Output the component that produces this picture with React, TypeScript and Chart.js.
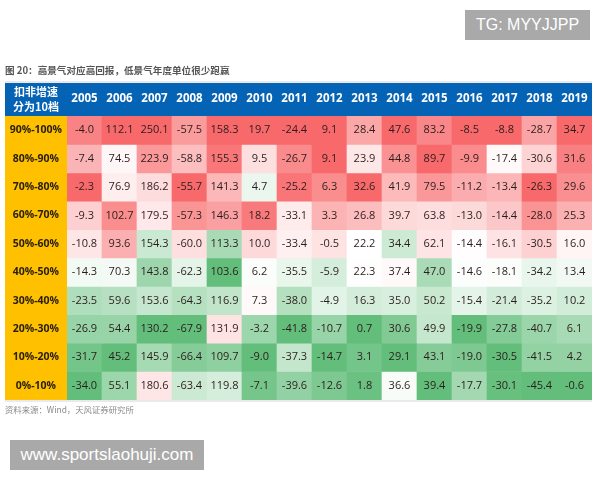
import { useEffect, useRef } from "react"
import { Chart, registerables } from "chart.js"

// Register Chart.js components
Chart.register(...registerables)

const years = ["2005", "2006", "2007", "2008", "2009", "2010", "2011", "2012", "2013", "2014", "2015", "2016", "2017", "2018", "2019"]
const buckets = ["90%-100%", "80%-90%", "70%-80%", "60%-70%", "50%-60%", "40%-50%", "30%-40%", "20%-30%", "10%-20%", "0%-10%"]

const row90 = [-4.0, 112.1, 250.1, -57.5, 158.3, 19.7, -24.4, 9.1, 28.4, 47.6, 83.2, -8.5, -8.8, -28.7, 34.7]
const row80 = [-7.4, 74.5, 223.9, -58.8, 155.3, 9.5, -26.7, 9.1, 23.9, 44.8, 89.7, -9.9, -17.4, -30.6, 31.6]
const row70 = [-2.3, 76.9, 186.2, -55.7, 141.3, 4.7, -25.2, 6.3, 32.6, 41.9, 79.5, -11.2, -13.4, -26.3, 29.6]
const row60 = [-9.3, 102.7, 179.5, -57.3, 146.3, 18.2, -33.1, 3.3, 26.8, 39.7, 63.8, -13.0, -14.4, -28.0, 25.3]
const row50 = [-10.8, 93.6, 154.3, -60.0, 113.3, 10.0, -33.4, -0.5, 22.2, 34.4, 62.1, -14.4, -16.1, -30.5, 16.0]
const row40 = [-14.3, 70.3, 143.8, -62.3, 103.6, 6.2, -35.5, -5.9, 22.3, 37.4, 47.0, -14.6, -18.1, -34.2, 13.4]
const row30 = [-23.5, 59.6, 153.6, -64.3, 116.9, 7.3, -38.0, -4.9, 16.3, 35.0, 50.2, -15.4, -21.4, -35.2, 10.2]
const row20 = [-26.9, 54.4, 130.2, -67.9, 131.9, -3.2, -41.8, -10.7, 0.7, 30.6, 49.9, -19.9, -27.8, -40.7, 6.1]
const row10 = [-31.7, 45.2, 145.9, -66.4, 109.7, -9.0, -37.3, -14.7, 3.1, 29.1, 43.1, -19.0, -30.5, -41.5, 4.2]
const row0 = [-34.0, 55.1, 180.6, -63.4, 119.8, -7.1, -39.6, -12.6, 1.8, 36.6, 39.4, -17.7, -30.1, -45.4, -0.6]
const rows = [row90, row80, row70, row60, row50, row40, row30, row20, row10, row0]

const cornerLines = ["扣非增速", "分为10档"]
const titleText = "图 20：高景气对应高回报，低景气年度单位很少跑赢"
const sourceText = "资料来源：Wind，天风证券研究所"

const CJK = '"Noto Sans CJK SC", "Noto Sans", sans-serif'
const NUM = '"Open Sans", "Noto Sans", sans-serif'
const RED = [248, 105, 107]
const WHITE = [255, 255, 255]
const GREEN = [99, 190, 123]
const BLUE = "#0563b5"
const YELLOW = "#ffc000"

// Excel style 3-colour scale, worked out per column (min / median / max)
function cellColor(value: number, col: number) {
  const sorted = rows.map((r) => r[col]).sort((a, b) => a - b)
  const mid = (sorted[4] + sorted[5]) / 2
  const lo = sorted[0]
  const hi = sorted[9]
  const from = value >= mid ? WHITE : GREEN
  const to = value >= mid ? RED : WHITE
  const t = value >= mid ? (value - mid) / (hi - mid) : (value - lo) / (mid - lo)
  const c = from.map((v, i) => Math.round(v + (to[i] - v) * t))
  return `rgb(${c[0]}, ${c[1]}, ${c[2]})`
}

const tablePlugin = {
  id: "tablePlugin",
  beforeDraw(chart: any) {
    const { ctx, chartArea, scales } = chart
    const left = scales.rowAxis.left
    const top = scales.x.top
    ctx.save()
    ctx.fillStyle = "#e9e9e9"
    ctx.fillRect(left, top - 2, chartArea.right - left, chartArea.bottom + 4 - top)
    ctx.fillStyle = BLUE
    ctx.fillRect(left, top, chartArea.right - left, chartArea.top - top)
    ctx.fillStyle = YELLOW
    ctx.fillRect(left, chartArea.top, chartArea.left - left, chartArea.bottom - chartArea.top)
    ctx.restore()
  },
  afterDatasetsDraw(chart: any) {
    const { ctx, chartArea, scales } = chart
    const left = scales.rowAxis.left
    ctx.save()
    ctx.textAlign = "center"
    ctx.textBaseline = "middle"

    ctx.fillStyle = "#fff"
    ctx.font = `bold 11px ${CJK}`
    const cx = (left + chartArea.left) / 2
    const cy = (scales.x.top + chartArea.top) / 2
    cornerLines.forEach((line, i) => ctx.fillText(line, cx, cy + (i - 0.5) * 15))

    // value inside each cell
    ctx.fillStyle = "#2b1d1d"
    ctx.font = `11px ${NUM}`
    rows.forEach((row, r) => {
      const bars = chart.getDatasetMeta(r).data
      row.forEach((v, c) => {
        const p = bars[c].getCenterPoint()
        ctx.fillText(v.toFixed(1), p.x, p.y)
      })
    })
    ctx.restore()
  },
}

function Heatmap() {
  const canvasRef = useRef<HTMLCanvasElement>(null)

  useEffect(() => {
    if (!canvasRef.current) return
    const ctx = canvasRef.current.getContext("2d")
    if (!ctx) return

    const chart = new Chart(ctx, {
      type: "bar",
      data: {
        labels: years,
        datasets: rows.map((row, r) => ({
          label: buckets[r],
          data: row.map(() => [r, r + 1]),
          backgroundColor: row.map((v, c) => cellColor(v, c)),
          borderWidth: 0,
          barPercentage: 1,
          categoryPercentage: 1,
          grouped: false,
        })),
      },
      options: {
        responsive: false,
        animation: false,
        layout: { padding: { left: 5, right: 8, top: 0, bottom: 0 } },
        plugins: {
          legend: { display: false },
          tooltip: { enabled: false },
          title: {
            display: true,
            text: titleText,
            align: "start",
            color: "#555",
            font: { family: CJK, size: 9.6, weight: "bold" },
            padding: { top: 65, bottom: 6.5 },
          },
          subtitle: {
            display: true,
            position: "bottom",
            text: sourceText,
            align: "start",
            color: "#8a8a8a",
            font: { family: CJK, size: 8.4, weight: "normal" },
            padding: { top: 5, bottom: 65 },
          },
        },
        scales: {
          x: {
            type: "category",
            position: "top",
            grid: { display: false, drawTicks: false },
            border: { display: false },
            ticks: {
              color: "#fff",
              font: { family: NUM, size: 11.5, weight: "bold" },
              padding: 10,
              maxRotation: 0,
              autoSkip: false,
            },
            afterFit(scale: any) {
              scale.height = 33
            },
          },
          y: {
            type: "linear",
            display: false,
            min: 0,
            max: 10,
            reverse: true,
          },
          rowAxis: {
            type: "category",
            labels: buckets,
            position: "left",
            offset: true,
            grid: { display: false, drawTicks: false },
            border: { display: false },
            ticks: {
              color: "#2a2008",
              font: { family: NUM, size: 10.5, weight: "bold" },
              padding: 5,
              crossAlign: "center",
              autoSkip: false,
            },
            afterFit(scale: any) {
              scale.width = 62
            },
          },
        },
      } as any,
      plugins: [tablePlugin],
    })

    return () => chart.destroy()
  }, [])

  // the source picture is a soft, recompressed screenshot
  return <canvas ref={canvasRef} width={600} height={480} style={{ display: "block", filter: "blur(0.4px)" }} />
}

const stampStyle = {
  position: "absolute",
  background: "#a9a9a9",
  color: "#fff",
  fontFamily: '"Liberation Sans", sans-serif',
  whiteSpace: "nowrap",
  textAlign: "center",
} as const

export default function App() {
  return (
    <div style={{ position: "absolute", left: 0, top: 0, width: 600, height: 480, background: "#fff", overflow: "hidden" }}>
      <Heatmap />
      <div style={{ ...stampStyle, left: 465, top: 10, width: 125, height: 30, lineHeight: "30px", fontSize: 16 }}>TG: MYYJJPP</div>
      <div style={{ ...stampStyle, left: 10, top: 440, width: 194, height: 30, lineHeight: "30px", fontSize: 17 }}>www.sportslaohuji.com</div>
    </div>
  )
}
